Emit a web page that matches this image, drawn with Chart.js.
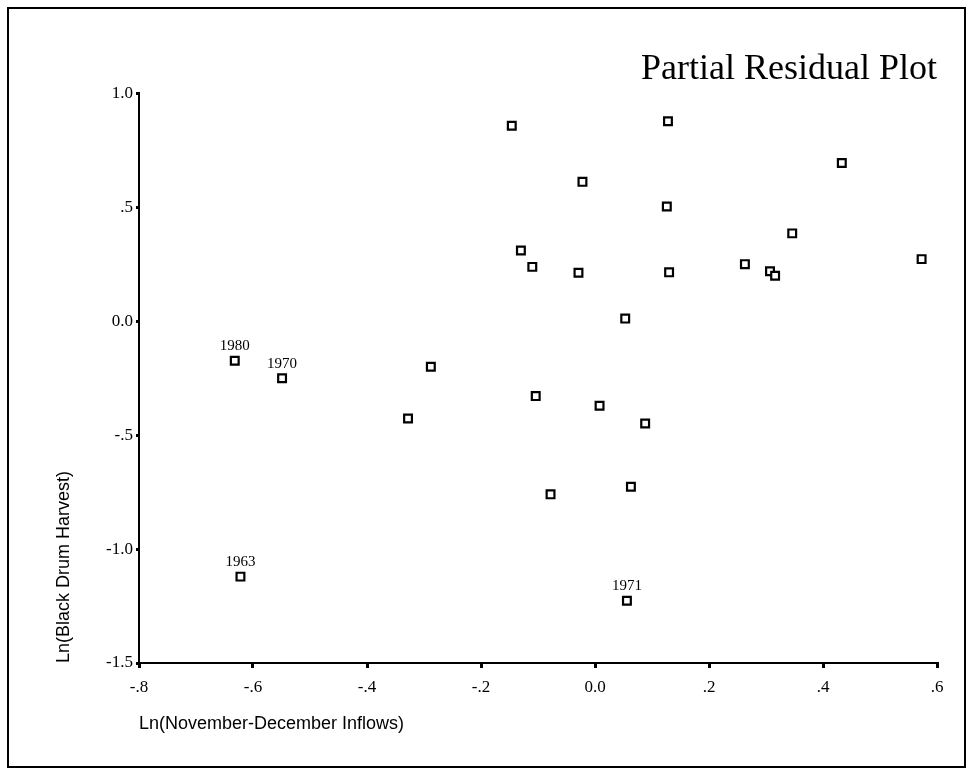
<!DOCTYPE html>
<html>
<head>
<meta charset="utf-8">
<script src="https://cdn.jsdelivr.net/npm/chart.js@4"></script>
<style>
  html, body { margin: 0; padding: 0; background: #fff; }
  #wrap { width: 974px; height: 771px; }
</style>
</head>
<body>
<div id="wrap"><canvas id="chart" width="974" height="771"></canvas></div>
<script>
// partial residuals
const inflows = [-0.632, -0.549, -0.622, -0.328, -0.288, -0.146, -0.130, -0.110, -0.104, -0.078,
                 -0.029, -0.022, 0.008, 0.053, 0.056, 0.063, 0.088, 0.128, 0.126, 0.130,
                 0.263, 0.307, 0.316, 0.346, 0.433, 0.573];
const harvest = [-0.174, -0.251, -1.121, -0.427, -0.200, 0.857, 0.310, 0.238, -0.329, -0.760,
                 0.212, 0.611, -0.371, 0.011, -1.227, -0.727, -0.449, 0.877, 0.503, 0.214,
                 0.250, 0.219, 0.199, 0.385, 0.694, 0.272];
const yearLabels = ['1980', '1970', '1963', '', '', '', '', '', '', '',
                    '', '', '', '', '1971', '', '', '', '', '',
                    '', '', '', '', '', ''];
const xTickLabels = ['-.8', '-.6', '-.4', '-.2', '0.0', '.2', '.4', '.6'];
const yTickLabels = ['-1.5', '-1.0', '-.5', '0.0', '.5', '1.0'];

const serif = "'Liberation Serif', 'Times New Roman', serif";
const sans = "'Liberation Sans', Arial, sans-serif";

// outer frame round the whole figure
const framePlugin = {
    id: 'frame',
    beforeDraw(chart) {
        const ctx = chart.ctx;
        ctx.save();
        ctx.fillStyle = '#fff';
        ctx.fillRect(0, 0, chart.width, chart.height);
        ctx.strokeStyle = '#000';
        ctx.lineWidth = 2;
        ctx.strokeRect(8, 8, 957, 759);
        ctx.restore();
    }
};

// year labels above the marked points
const yearPlugin = {
    id: 'years',
    afterDatasetsDraw(chart) {
        const ctx = chart.ctx;
        const meta = chart.getDatasetMeta(0);
        ctx.save();
        ctx.font = '15px ' + serif;
        ctx.fillStyle = '#000';
        ctx.textAlign = 'center';
        ctx.textBaseline = 'bottom';
        meta.data.forEach(function (pt, i) {
            if (yearLabels[i]) ctx.fillText(yearLabels[i], pt.x, pt.y - 7);
        });
        ctx.restore();
    }
};

const points = inflows.map(function (x, i) { return { x: x, y: harvest[i] }; });

new Chart(document.getElementById('chart'), {
    type: 'scatter',
    data: {
        datasets: [{
            data: points,
            pointStyle: 'rect',
            pointRadius: 5.5,
            pointHoverRadius: 5.5,
            pointBorderWidth: 2.2,
            pointBorderColor: '#000',
            pointBackgroundColor: '#fff'
        }]
    },
    options: {
        responsive: false,
        animation: false,
        layout: { padding: { left: 48, right: 37, top: 10, bottom: 10 } },
        plugins: {
            legend: { display: false },
            tooltip: { enabled: false },
            title: {
                display: true,
                text: 'Partial Residual Plot',
                align: 'end',
                color: '#000',
                font: { family: serif, size: 36, weight: 'normal' },
                padding: { top: 38, bottom: 2 }
            }
        },
        scales: {
            x: {
                type: 'linear',
                min: -0.8,
                max: 0.6,
                afterFit(scale) { scale.height = 771 - 10 - 663; },
                border: { display: true, color: '#000', width: 2 },
                grid: { display: true, drawOnChartArea: false, color: '#000', lineWidth: 3, tickLength: 5 },
                ticks: {
                    stepSize: 0.2,
                    color: '#000',
                    padding: 9,
                    font: { family: serif, size: 17 },
                    callback: function (v, i) { return xTickLabels[i]; }
                },
                title: {
                    display: true,
                    text: 'Ln(November-December Inflows)',
                    align: 'start',
                    color: '#000',
                    font: { family: sans, size: 18 },
                    padding: { top: 0, bottom: 26 }
                }
            },
            y: {
                type: 'linear',
                min: -1.5,
                max: 1.0,
                afterFit(scale) { scale.width = 139 - 48; },
                border: { display: true, color: '#000', width: 2 },
                grid: { display: true, drawOnChartArea: false, color: '#000', lineWidth: 3, tickLength: 3 },
                ticks: {
                    stepSize: 0.5,
                    color: '#000',
                    padding: 3,
                    font: { family: serif, size: 17 },
                    callback: function (v, i) { return yTickLabels[i]; }
                },
                title: {
                    display: true,
                    text: 'Ln(Black Drum Harvest)',
                    align: 'start',
                    color: '#000',
                    font: { family: sans, size: 18 },
                    padding: { top: 5, bottom: 0 }
                }
            }
        }
    },
    plugins: [framePlugin, yearPlugin]
});
</script>
</body>
</html>
